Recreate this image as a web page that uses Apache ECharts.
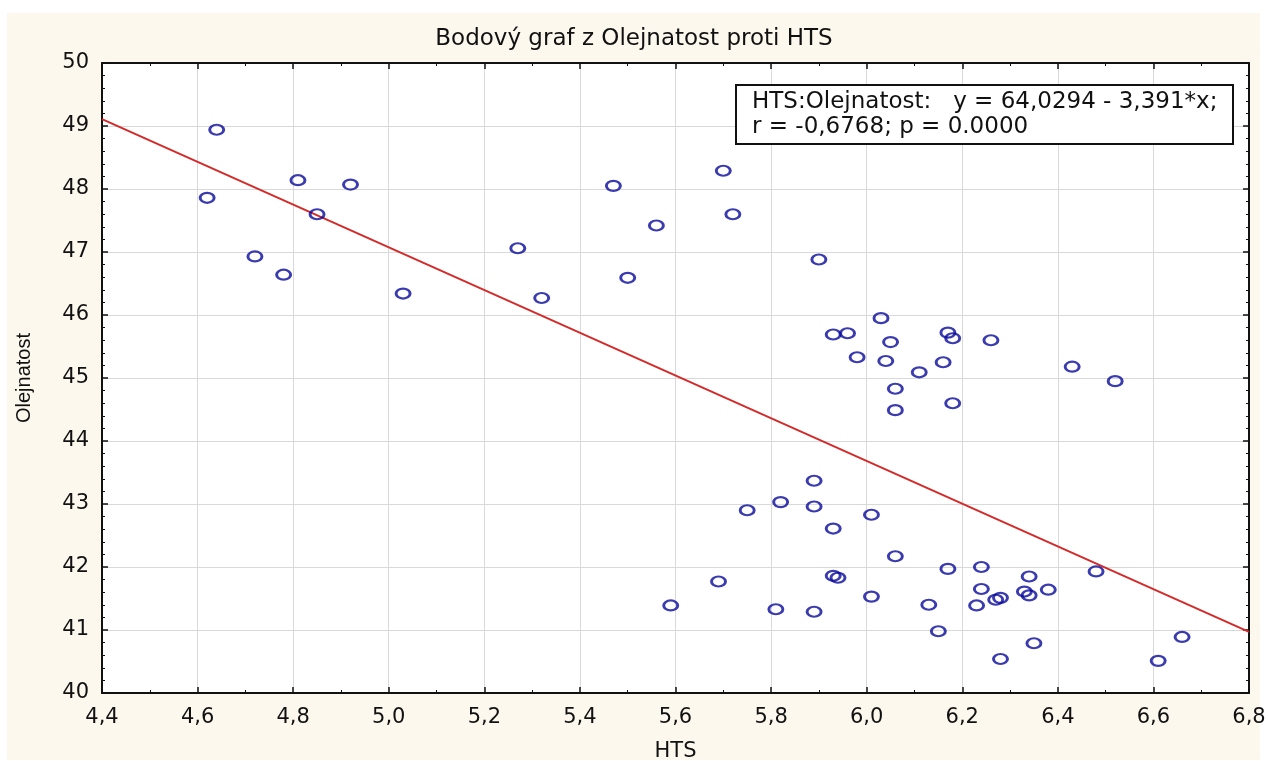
<!DOCTYPE html>
<html>
<head>
<meta charset="utf-8">
<script src="https://cdn.jsdelivr.net/npm/echarts@6/dist/echarts.min.js"></script>
<style>
  html, body { margin: 0; padding: 0; background: #fff; }
  #chart { width: 1268px; height: 761px; }
</style>
</head>
<body>
<div id="chart"></div>
<script>
// HTS (x) a Olejnatost (y)
const hts = [
  4.64, 4.62, 4.81, 4.92, 4.85, 4.72, 4.78, 5.03,
  5.47, 5.70, 5.72, 5.56, 5.27, 5.50, 5.32, 5.90,
  5.93, 5.96, 6.03, 6.05, 5.98, 6.04, 6.11, 6.06, 6.06, 6.17, 6.18, 6.16, 6.18, 6.26,
  6.43, 6.52,
  5.89, 5.82, 5.75, 5.89, 6.01, 5.93, 6.06, 5.93, 5.94, 6.01, 5.81, 5.89, 5.69, 5.59,
  6.17, 6.24, 6.24, 6.23, 6.27, 6.28, 6.34, 6.33, 6.34, 6.38, 6.13, 6.15, 6.35, 6.28, 6.48,
  6.61, 6.66
];
const olejnatost = [
  48.94, 47.86, 48.14, 48.07, 47.60, 46.93, 46.64, 46.34,
  48.05, 48.29, 47.60, 47.42, 47.06, 46.59, 46.27, 46.88,
  45.69, 45.71, 45.95, 45.57, 45.33, 45.27, 45.09, 44.83, 44.49, 45.72, 45.63, 45.25, 44.60, 45.60,
  45.18, 44.95,
  43.37, 43.03, 42.90, 42.96, 42.83, 42.61, 42.17, 41.86, 41.83, 41.53, 41.33, 41.29, 41.77, 41.39,
  41.97, 42.00, 41.65, 41.39, 41.48, 41.51, 41.85, 41.61, 41.55, 41.64, 41.40, 40.98, 40.79, 40.54, 41.93,
  40.51, 40.89
];
// regresní přímka y = 64,0294 - 3,391*x (konce na okrajích osy)
const trendX = [4.4, 6.8];
const trendY = [49.11, 40.97];

const titleText = 'Bodový graf z Olejnatost proti HTS';
const noteLines = ['HTS:Olejnatost:   y = 64,0294 - 3,391*x;', 'r = -0,6768; p = 0.0000'];

const wide = '"DejaVu Sans", Arial, sans-serif';   // obrázek je roztažený do šířky
const narrow = 'Arial, "Liberation Sans", sans-serif';
const chart = echarts.init(document.getElementById('chart'));

const commaFmt = (v) => v.toFixed(1).replace('.', ',');

const baseAxis = {
  axisLine: { show: true, lineStyle: { color: '#111', width: 2 } },
  axisTick: { show: true, inside: true, length: 6, lineStyle: { color: '#111', width: 1.5 } },
  minorTick: { show: true, length: 3, lineStyle: { color: '#111', width: 1 } }
};

const option = {
  animation: false,
  backgroundColor: '#fff',
  title: {
    text: titleText,
    left: 'center',
    top: 23,
    textStyle: { fontFamily: wide, fontSize: 23, fontWeight: 'normal', color: '#111' }
  },
  grid: {
    left: 102, right: 19, top: 63, bottom: 68,
    outerBoundsMode: 'none', // v6: nezmenšovat mřížku kvůli popiskům
    show: true, backgroundColor: '#fff', borderWidth: 0
  },
  xAxis: [{
    ...baseAxis,
    type: 'value',
    min: 4.4, max: 6.8, interval: 0.2,
    minorTick: { ...baseAxis.minorTick, splitNumber: 2 },
    name: 'HTS',
    nameLocation: 'middle',
    nameGap: 48,
    nameTextStyle: { fontFamily: wide, fontSize: 21, color: '#111' },
    axisLabel: { formatter: commaFmt, fontFamily: wide, fontSize: 21, color: '#111', margin: 14 },
    splitLine: { show: true, lineStyle: { color: '#d9d9d9', width: 1 } }
  }, {
    ...baseAxis,
    type: 'value',
    position: 'top',
    min: 4.4, max: 6.8, interval: 0.2,
    minorTick: { ...baseAxis.minorTick, splitNumber: 2 },
    axisLabel: { show: false },
    splitLine: { show: false }
  }],
  yAxis: [{
    ...baseAxis,
    type: 'value',
    min: 40, max: 50, interval: 1,
    minorTick: { ...baseAxis.minorTick, splitNumber: 5 },
    name: 'Olejnatost',
    nameLocation: 'middle',
    nameGap: 68,
    nameTextStyle: { fontFamily: narrow, fontSize: 20, color: '#111' },
    axisLabel: { fontFamily: wide, fontSize: 21, color: '#111', margin: 13 },
    splitLine: { show: true, lineStyle: { color: '#d9d9d9', width: 1 } }
  }, {
    ...baseAxis,
    type: 'value',
    position: 'right',
    min: 40, max: 50, interval: 1,
    minorTick: { ...baseAxis.minorTick, splitNumber: 5 },
    axisLabel: { show: false },
    splitLine: { show: false }
  }],
  series: [{
    type: 'line',
    data: trendX.map((x, i) => [x, trendY[i]]),
    symbol: 'none',
    lineStyle: { color: '#d42a2a', width: 2 },
    z: 2
  }, {
    type: 'scatter',
    data: hts.map((x, i) => [x, olejnatost[i]]),
    symbol: 'circle',
    symbolSize: [14, 10],
    itemStyle: { color: 'rgba(255,255,255,0)', borderColor: '#0a0a9c', borderWidth: 2.5 },
    z: 3
  }],
  graphic: [{
    type: 'rect',
    left: 7, top: 13,
    shape: { width: 1253, height: 747 },
    style: { fill: '#fdf8ee' },
    z: -10
  }, {
    type: 'rect',
    left: 735, top: 84,
    shape: { width: 497, height: 59 },
    style: { fill: '#fff', stroke: '#111', lineWidth: 2 },
    z: 100
  }, {
    type: 'text',
    left: 752, top: 90,
    style: {
      text: noteLines.join('\n'),
      fontFamily: wide, fontSize: 23, lineHeight: 25, fill: '#111'
    },
    z: 101
  }]
};

chart.setOption(option);
</script>
</body>
</html>
